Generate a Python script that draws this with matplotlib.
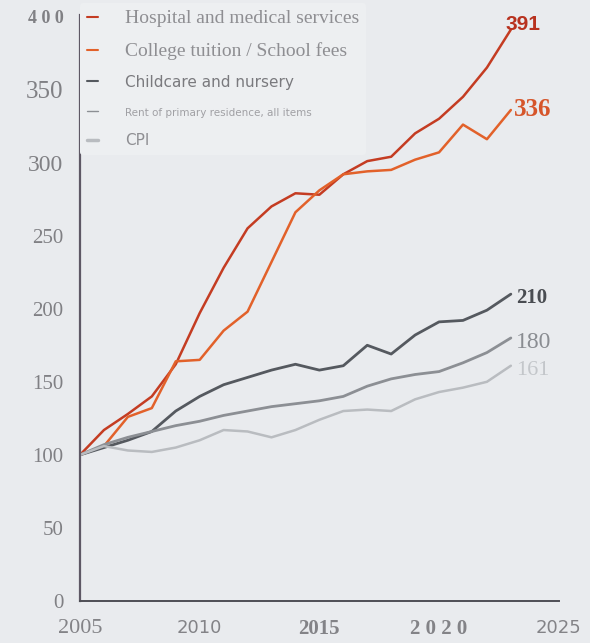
import matplotlib
matplotlib.use("Agg")
import matplotlib.pyplot as plt

years = list(range(2005, 2024))
hospital = [100, 117, 128, 140, 162, 197, 228, 255, 270, 279, 278, 292, 301, 304, 320, 330, 345, 365, 391]
tuition = [100, 106, 126, 132, 164, 165, 185, 198, 232, 266, 281, 292, 294, 295, 302, 307, 326, 316, 336]
childcare = [100, 105, 110, 116, 130, 140, 148, 153, 158, 162, 158, 161, 175, 169, 182, 191, 192, 199, 210]
housing = [100, 107, 112, 116, 120, 123, 127, 130, 133, 135, 137, 140, 147, 152, 155, 157, 163, 170, 180]
cpi = [100, 106, 103, 102, 105, 110, 117, 116, 112, 117, 124, 130, 131, 130, 138, 143, 146, 150, 161]

labels = ["Hospital and medical services",
          "College tuition / School fees",
          "Childcare and nursery",
          "Rent of primary residence, all items",
          "CPI"]
y_ticks = [0, 50, 100, 150, 200, 250, 300, 350, 400]
y_ticklabels = ["0", "50", "100", "150", "200", "250", "300", "350", "4 0 0"]
x_ticks = [2005, 2010, 2015, 2020, 2025]
x_ticklabels = ["2005", "2010", "2015", "2 0 2 0", "2025"]

bg = "#e9ebee"
fig = plt.figure(figsize=(5.9, 6.43), dpi=100, facecolor=bg)
ax = fig.add_axes([0.1356, 0.0653, 0.947 - 0.1356, 0.9767 - 0.0653])
ax.set_facecolor(bg)

series = [
    (hospital, "#c43c22", 1.8),
    (tuition, "#e2612a", 1.8),
    (childcare, "#55595f", 2.0),
    (housing, "#8c8f94", 2.0),
    (cpi, "#b9bcc0", 1.8),
]
for (vals, col, lw), lab in zip(series, labels):
    ax.plot(years, vals, color=col, lw=lw, solid_capstyle="round",
            solid_joinstyle="round", label=lab)

ax.set_xlim(2005, 2025)
ax.set_ylim(0, 401)
ax.set_xticks(x_ticks)
ax.set_yticks(y_ticks)
ax.set_xticklabels(x_ticklabels)
ax.set_yticklabels(y_ticklabels)

for s in ["top", "right"]:
    ax.spines[s].set_visible(False)
ax.spines["left"].set_color("#5e5865")
ax.spines["left"].set_linewidth(1.6)
ax.spines["bottom"].set_color("#4e4e55")
ax.spines["bottom"].set_linewidth(1.4)
ax.tick_params(axis="both", length=0)
ax.tick_params(axis="y", pad=12)
ax.tick_params(axis="x", pad=13)

ysizes = {0: 15, 50: 15, 100: 15, 150: 15, 200: 15, 250: 15, 300: 17, 350: 18, 400: 13}
for t, v in zip(ax.get_yticklabels(), y_ticks):
    t.set_family("Liberation Serif")
    t.set_fontsize(ysizes[v])
    t.set_color("#808084")
    if v == 400:
        t.set_fontweight("bold")

xstyles = {2005: ("Liberation Serif", "normal", 16),
           2010: ("DejaVu Sans", "normal", 13),
           2015: ("Liberation Serif", "bold", 15),
           2020: ("Liberation Serif", "bold", 15),
           2025: ("DejaVu Sans", "normal", 13)}
for t, v in zip(ax.get_xticklabels(), x_ticks):
    fam, w, sz = xstyles[v]
    t.set_family(fam)
    t.set_fontweight(w)
    t.set_fontsize(sz)
    t.set_color("#838387")

leg = ax.legend(loc="upper left", bbox_to_anchor=(0.0, 1.02), frameon=True,
                facecolor="#edeff1", edgecolor="none", framealpha=1.0,
                handlelength=0.7, handletextpad=1.6, labelspacing=0.9,
                borderpad=0.4, borderaxespad=0.0, fontsize=12)
leg_styles = [("Liberation Serif", "normal", 14, "#8e8e92"),
              ("Liberation Serif", "normal", 14, "#8e8e92"),
              ("DejaVu Sans", "normal", 11, "#7a7a7e"),
              ("DejaVu Sans", "normal", 7.5, "#a0a0a4"),
              ("DejaVu Sans", "normal", 11, "#8e8e92")]
for t, (fam, w, sz, c) in zip(leg.get_texts(), leg_styles):
    t.set_family(fam)
    t.set_fontweight(w)
    t.set_fontsize(sz)
    t.set_color(c)
for h, lw in zip(leg.get_lines(), [1.5, 1.5, 1.5, 1.0, 2.5]):
    h.set_linewidth(lw)

end_styles = [
    (hospital, "391", "#b8321f", "Liberation Sans", "bold", 15, (-5, 5)),
    (tuition, "336", "#d6552a", "Liberation Serif", "bold", 18, (3, 0)),
    (childcare, "210", "#4a4d52", "Liberation Serif", "bold", 15, (5, -4)),
    (housing, "180", "#8a8d92", "Liberation Serif", "normal", 17, (5, -5)),
    (cpi, "161", "#c3c6ca", "Liberation Serif", "normal", 16, (5, -5)),
]
for vals, txt, col, fam, w, sz, off in end_styles:
    ax.annotate(txt, xy=(years[-1], vals[-1]), xytext=off, textcoords="offset pixels",
                ha="left", va="center", color=col, family=fam, fontweight=w, fontsize=sz)

fig.savefig("out.png", dpi=100, facecolor=bg)
